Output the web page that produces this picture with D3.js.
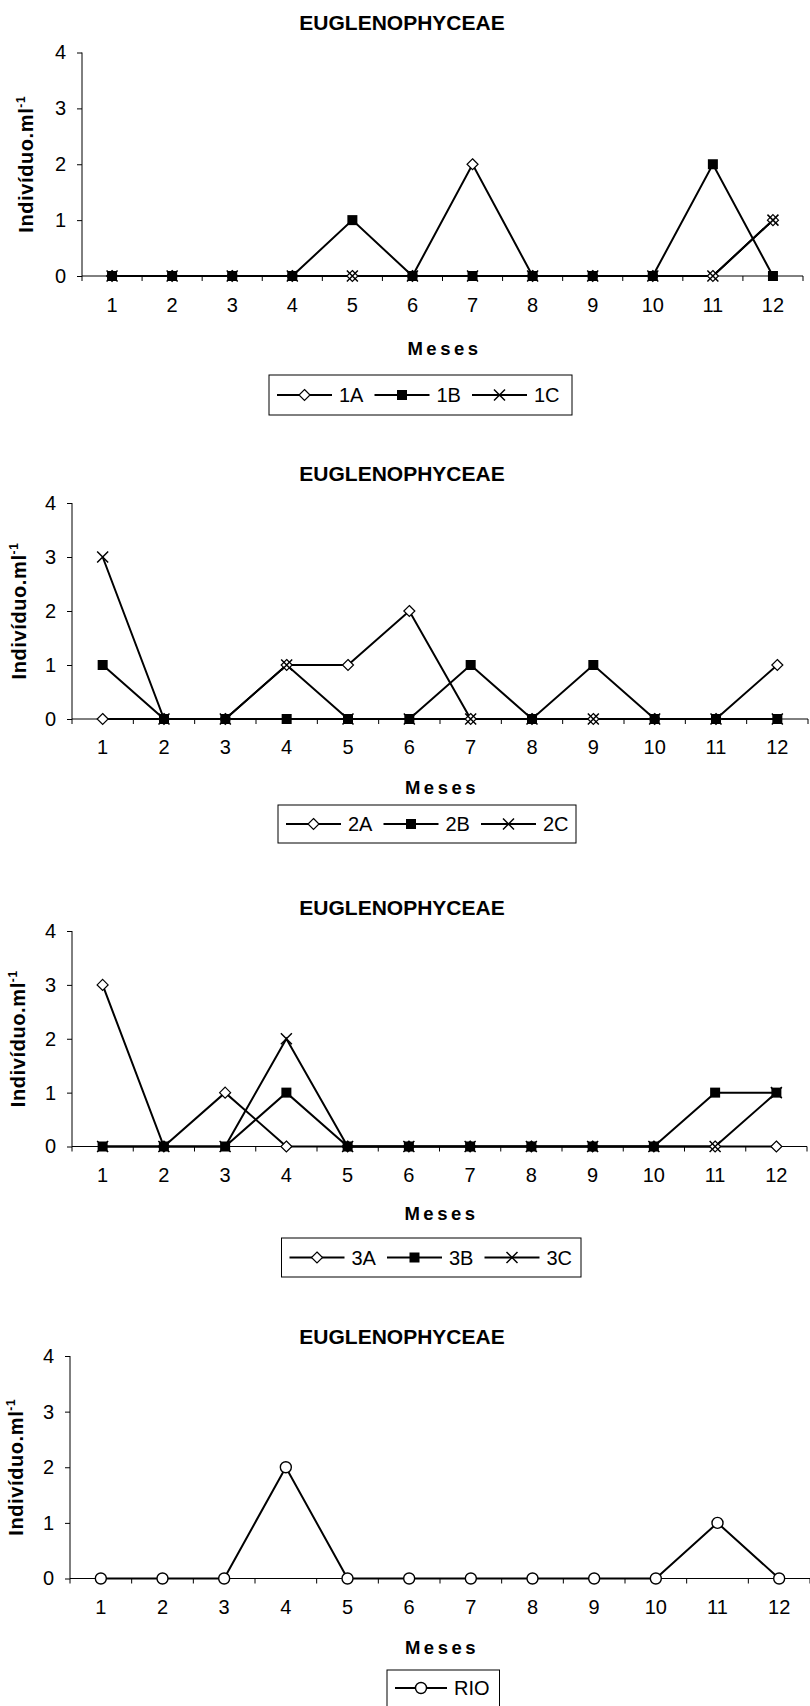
<!DOCTYPE html>
<html>
<head>
<meta charset="utf-8">
<script src="https://cdn.jsdelivr.net/npm/d3@7"></script>
<style>
  html, body { margin: 0; padding: 0; background: #fff; }
  svg { display: block; }
  text { font-family: "Liberation Sans", Arial, Helvetica, sans-serif; fill: #000; }
</style>
</head>
<body>
<svg id="chart" width="810" height="1706"></svg>
<script>
// Monthly Euglenophyceae counts (indivíduo/ml) per sampling station
const months = ["1", "2", "3", "4", "5", "6", "7", "8", "9", "10", "11", "12"];
const yTicks = [0, 1, 2, 3, 4];
const chartTitle = "EUGLENOPHYCEAE";
const xTitle = "Meses";

const s1A = [0, 0, 0, 0, 0, 0, 2, 0, 0, 0, 0, 1];
const s1B = [0, 0, 0, 0, 1, 0, 0, 0, 0, 0, 2, 0];
const s1C = [0, 0, 0, 0, 0, 0, 0, 0, 0, 0, 0, 1];

const s2A = [0, 0, 0, 1, 1, 2, 0, 0, 0, 0, 0, 1];
const s2B = [1, 0, 0, 0, 0, 0, 1, 0, 1, 0, 0, 0];
const s2C = [3, 0, 0, 1, 0, 0, 0, 0, 0, 0, 0, 0];

const s3A = [3, 0, 1, 0, 0, 0, 0, 0, 0, 0, 0, 0];
const s3B = [0, 0, 0, 1, 0, 0, 0, 0, 0, 0, 1, 1];
const s3C = [0, 0, 0, 2, 0, 0, 0, 0, 0, 0, 0, 1];

const sRio = [0, 0, 0, 2, 0, 0, 0, 0, 0, 0, 1, 0];

const panelSeries = [
  [{ name: "1A", values: s1A, marker: "diamond" },
   { name: "1B", values: s1B, marker: "square" },
   { name: "1C", values: s1C, marker: "cross" }],
  [{ name: "2A", values: s2A, marker: "diamond" },
   { name: "2B", values: s2B, marker: "square" },
   { name: "2C", values: s2C, marker: "cross" }],
  [{ name: "3A", values: s3A, marker: "diamond" },
   { name: "3B", values: s3B, marker: "square" },
   { name: "3C", values: s3C, marker: "cross" }],
  [{ name: "RIO", values: sRio, marker: "circle" }]
];

// Page geometry of each panel
const frames = [
  { titleY: 30,    x0: 82, x1: 803, yBottom: 276,    yTop: 52.5, tickLabY: 312,  mesesY: 355,  yLabX: 33,
    legend: { x: 269,   y: 375,  w: 303,   h: 40 } },
  { titleY: 480.5, x0: 72, x1: 808, yBottom: 719,    yTop: 503,  tickLabY: 754,  mesesY: 794,  yLabX: 26,
    legend: { x: 278,   y: 805,  w: 298,   h: 38 } },
  { titleY: 914.5, x0: 72, x1: 807, yBottom: 1146.5, yTop: 931,  tickLabY: 1182, mesesY: 1220, yLabX: 25,
    legend: { x: 281.5, y: 1238, w: 299.5, h: 39 } },
  { titleY: 1343.5, x0: 70, x1: 810, yBottom: 1578.5, yTop: 1356, tickLabY: 1614, mesesY: 1654, yLabX: 23,
    legend: { x: 387,   y: 1670, w: 112.5, h: 50 } }
];

const svg = d3.select("#chart");

function drawMarker(g, type, cx, cy) {
  if (type === "diamond") {
    const r = 5.5;
    g.append("path")
      .attr("d", `M${cx},${cy - r}L${cx + r},${cy}L${cx},${cy + r}L${cx - r},${cy}Z`)
      .attr("fill", "#fff").attr("stroke", "#000").attr("stroke-width", 1.2);
  } else if (type === "square") {
    const s = 10;
    g.append("rect")
      .attr("x", cx - s / 2).attr("y", cy - s / 2).attr("width", s).attr("height", s)
      .attr("fill", "#000");
  } else if (type === "cross") {
    const r = 5.5;
    g.append("path")
      .attr("d", `M${cx - r},${cy - r}L${cx + r},${cy + r}M${cx - r},${cy + r}L${cx + r},${cy - r}`)
      .attr("fill", "none").attr("stroke", "#000").attr("stroke-width", 1.5);
  } else if (type === "circle") {
    g.append("circle")
      .attr("cx", cx).attr("cy", cy).attr("r", 5.5)
      .attr("fill", "#fff").attr("stroke", "#000").attr("stroke-width", 1.4);
  }
}

panelSeries.forEach((seriesList, i) => {
  const f = frames[i];
  const g = svg.append("g");

  const x = d3.scaleBand().domain(months).range([f.x0, f.x1]).paddingInner(0).paddingOuter(0);
  const y = d3.scaleLinear().domain([0, 4]).range([f.yBottom, f.yTop]);
  const cx = m => x(m) + x.bandwidth() / 2;

  // Title
  g.append("text")
    .attr("x", 402).attr("y", f.titleY)
    .attr("text-anchor", "middle")
    .attr("font-size", 21).attr("font-weight", "bold")
    .text(chartTitle);

  // Y axis
  const yAxis = g.append("g")
    .attr("transform", `translate(${f.x0},0)`)
    .call(d3.axisLeft(y).tickValues(yTicks).tickSize(5).tickPadding(11).tickFormat(d3.format("d")));
  yAxis.select(".domain").attr("d", `M0,${f.yBottom}V${f.yTop}`).attr("stroke", "#000");
  yAxis.selectAll(".tick line").attr("stroke", "#000");
  yAxis.selectAll(".tick text")
    .attr("font-size", 20).attr("font-family", "Liberation Sans, Arial, sans-serif").attr("fill", "#000");

  // X axis: tick marks sit on category boundaries, labels in the middle of each band
  const xAxis = g.append("g").attr("transform", `translate(0,${f.yBottom})`);
  xAxis.append("line")
    .attr("x1", f.x0).attr("x2", f.x1).attr("y1", 0).attr("y2", 0)
    .attr("stroke", "#000");
  const bounds = months.map(m => x(m)).concat([x(months[months.length - 1]) + x.bandwidth()]);
  xAxis.selectAll("line.tk").data(bounds).join("line")
    .attr("class", "tk")
    .attr("x1", d => d).attr("x2", d => d).attr("y1", 0).attr("y2", 5)
    .attr("stroke", "#000");
  g.selectAll("text.xl").data(months).join("text")
    .attr("class", "xl")
    .attr("x", d => cx(d)).attr("y", f.tickLabY)
    .attr("text-anchor", "middle").attr("font-size", 20)
    .text(d => d);

  // Axis titles
  g.append("text")
    .attr("x", (f.x0 + f.x1) / 2 + 2).attr("y", f.mesesY)
    .attr("text-anchor", "middle").attr("font-size", 18.5).attr("font-weight", "bold")
    .attr("letter-spacing", 3.5)
    .text(xTitle);

  const yl = g.append("text")
    .attr("transform", `translate(${f.yLabX},${(f.yBottom + f.yTop) / 2}) rotate(-90)`)
    .attr("text-anchor", "middle").attr("font-size", 20).attr("font-weight", "bold")
    .attr("letter-spacing", 0.6);
  yl.append("tspan").text("Indivíduo.ml");
  yl.append("tspan").attr("font-size", 12).attr("dy", -8).text("-1");

  // Series lines and markers
  const line = d3.line().x((d, k) => cx(months[k])).y(d => y(d));
  seriesList.forEach(s => {
    g.append("path")
      .datum(s.values)
      .attr("d", line)
      .attr("fill", "none").attr("stroke", "#000").attr("stroke-width", 2);
  });
  seriesList.forEach(s => {
    const mg = g.append("g");
    s.values.forEach((v, k) => drawMarker(mg, s.marker, cx(months[k]), y(v)));
  });

  // Legend
  const L = f.legend;
  const lg = g.append("g");
  lg.append("rect")
    .attr("x", L.x).attr("y", L.y).attr("width", L.w).attr("height", L.h)
    .attr("fill", "#fff").attr("stroke", "#000").attr("stroke-width", 1);
  const midY = L.y + (i === 3 ? 18 : L.h / 2);
  const lineLen = i === 3 ? 52 : 55;
  const step = 97.5;
  seriesList.forEach((s, k) => {
    const lx = L.x + 8 + k * step;
    lg.append("line")
      .attr("x1", lx).attr("x2", lx + lineLen).attr("y1", midY).attr("y2", midY)
      .attr("stroke", "#000").attr("stroke-width", 2);
    drawMarker(lg, s.marker, lx + lineLen / 2, midY);
    lg.append("text")
      .attr("x", lx + lineLen + 7).attr("y", midY + 7)
      .attr("font-size", 20)
      .text(s.name);
  });
});
</script>
</body>
</html>
